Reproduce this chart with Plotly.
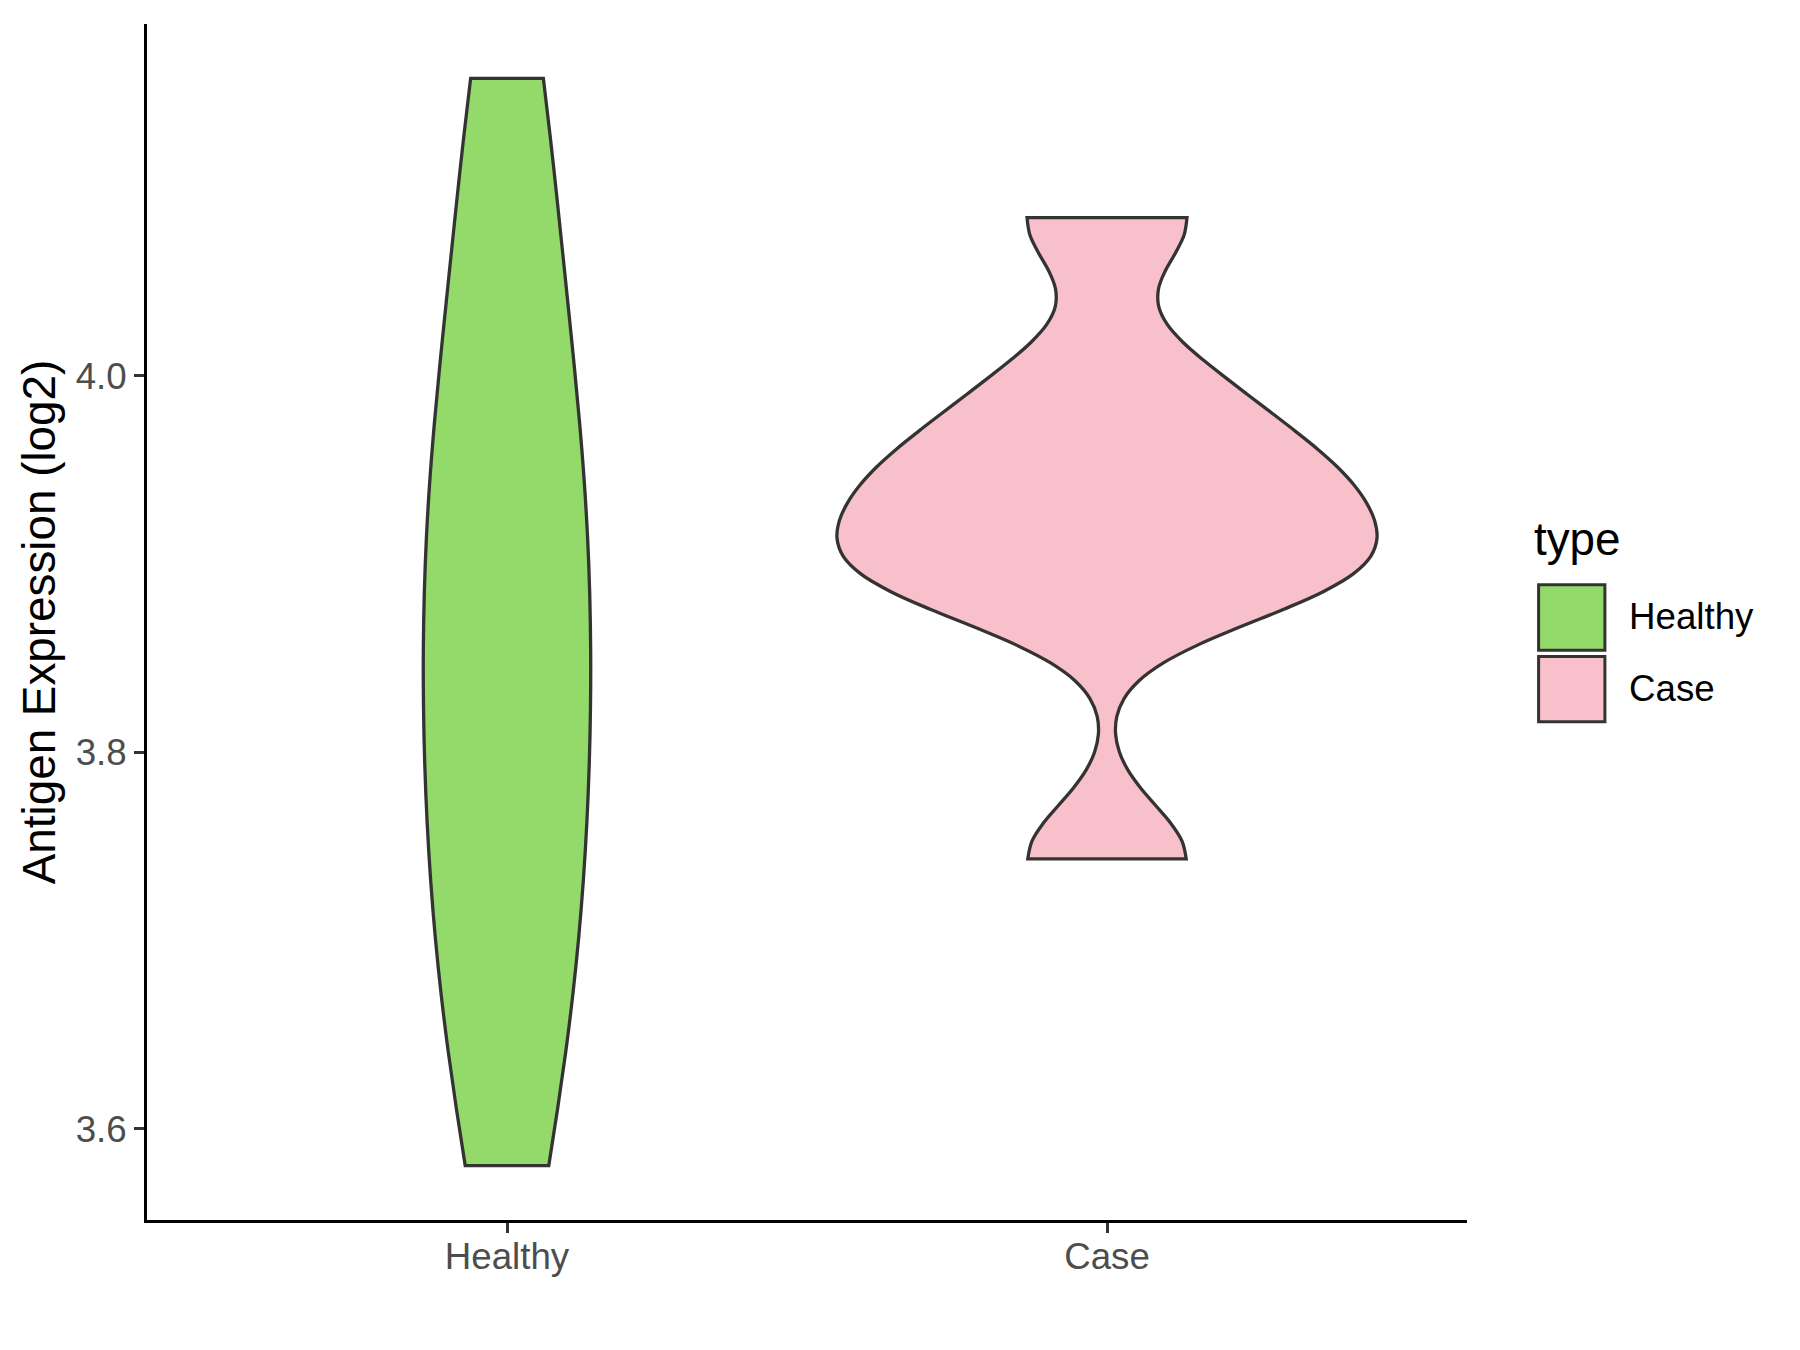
import numpy as np
import plotly.graph_objects as go

# ---- data ----
categories = ["Healthy", "Case"]
healthy_values = [3.5805, 3.6663, 3.7166, 3.7797, 3.8302, 3.8744, 3.9498, 3.9711, 4.0683, 4.1580]
case_values = [3.7434, 3.8908, 3.8908, 3.9154, 3.9429, 3.9559, 3.9963, 4.0841]
healthy_bw = 0.0925
case_bw = 0.02875
y_tick_values = [3.6, 3.8, 4.0]
y_tick_labels = ["3.6", "3.8", "4.0"]
legend_title = "type"
y_title = "Antigen Expression (log2)"

colors = {"Healthy": "#93DA6A", "Case": "#F8C0CB"}
outline = "#333333"
FONT = "Liberation Sans, Arial, Helvetica, sans-serif"

# page body has an 8px margin; figure coords = page coords - 8
W, H = 1784, 1334
PL, PR, PT, PB = 138.6, 1458.6, 16.0, 1212.0  # plot area in figure pixels


def max_density(vals, bw):
    v = np.asarray(vals)
    grid = np.linspace(v.min(), v.max(), 512)
    d = np.exp(-0.5 * ((grid[:, None] - v[None, :]) / bw) ** 2).sum(1) / (len(v) * bw * np.sqrt(2 * np.pi))
    return d.max()


# ggplot scale="area": widths proportional to each violin's peak density
groups = [("Healthy", healthy_values, healthy_bw), ("Case", case_values, case_bw)]
peaks = {c: max_density(v, b) for c, v, b in groups}
top_peak = max(peaks.values())

fig = go.Figure()
for cat, vals, bw in groups:
    fig.add_trace(go.Violin(
        x=[cat] * len(vals), y=vals, name=cat,
        fillcolor=colors[cat], opacity=1,
        line=dict(color=outline, width=3.3),
        bandwidth=bw, spanmode="hard", points=False,
        box_visible=False, meanline_visible=False,
        width=0.9 * peaks[cat] / top_peak, scalemode="width",
        showlegend=False, hoveron="violins",
    ))


def px_x(px):
    return (px - 8 - PL) / (PR - PL)


def px_y(py):
    return (PB - (py - 8)) / (PB - PT)


# legend drawn manually (ggplot style keys); positions in page pixels
shapes = []
annotations = []
key_boxes = [(584.8, 650.2), (656.5, 721.8)]
for cat, (y0, y1) in zip(categories, key_boxes):
    shapes.append(dict(type="rect", xref="paper", yref="paper",
                       x0=px_x(1538.2), x1=px_x(1604.5), y0=px_y(y1), y1=px_y(y0),
                       fillcolor=colors[cat], line=dict(color=outline, width=3)))
    annotations.append(dict(text=cat, xref="paper", yref="paper",
                            x=px_x(1627), y=px_y((y0 + y1) / 2 - 1), xanchor="left", yanchor="middle",
                            showarrow=False, font=dict(family=FONT, size=36.7, color="black")))
annotations.append(dict(text=legend_title, xref="paper", yref="paper",
                        x=px_x(1532), y=px_y(539), xanchor="left", yanchor="middle",
                        showarrow=False, font=dict(family=FONT, size=45.8, color="black")))

fig.update_layout(
    width=W, height=H,
    margin=dict(l=PL, r=W - PR, t=PT, b=H - PB, pad=0),
    paper_bgcolor="white", plot_bgcolor="white",
    violinmode="overlay",
    shapes=shapes, annotations=annotations,
    font=dict(family=FONT),
    xaxis=dict(
        type="category", categoryorder="array", categoryarray=categories,
        range=[-0.6, 1.6], showgrid=False, zeroline=False,
        showline=True, linecolor="black", linewidth=3,
        ticks="outside", ticklen=10, tickwidth=3, tickcolor=outline,
        ticklabelstandoff=-8,
        tickfont=dict(family=FONT, size=36.7, color="#4D4D4D"),
    ),
    yaxis=dict(
        range=[3.5516, 4.1869], showgrid=False, zeroline=False,
        showline=True, linecolor="black", linewidth=3,
        ticks="outside", ticklen=10, tickwidth=3, tickcolor=outline,
        tickvals=y_tick_values, ticktext=y_tick_labels,
        tickfont=dict(family=FONT, size=36.7, color="#4D4D4D"),
        title=dict(text=y_title, font=dict(family=FONT, size=45.8, color="black"), standoff=6),
    ),
)

fig.write_html("out.html")
